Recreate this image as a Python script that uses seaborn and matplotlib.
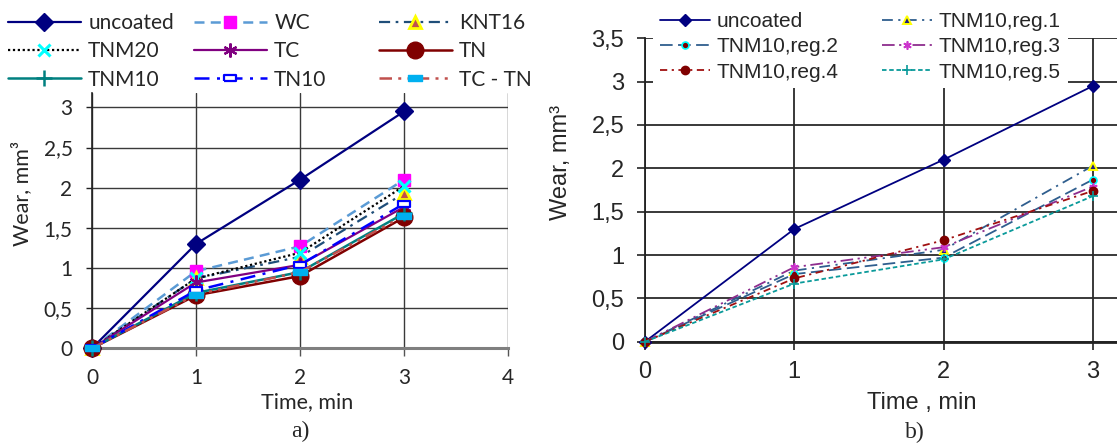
import numpy as np
import pandas as pd
import matplotlib.pyplot as plt
import seaborn as sns
from matplotlib.patches import Rectangle

# ---- data, panel a) ----
time_a = [0, 1, 2, 3]
uncoated_a = [0, 1.30, 2.10, 2.95]
wc = [0, 0.96, 1.27, 2.10]
knt16 = [0, 0.87, 1.14, 1.93]
tnm20 = [0, 0.87, 1.19, 2.02]
tc = [0, 0.82, 1.04, 1.76]
tn = [0, 0.66, 0.90, 1.63]
tnm10 = [0, 0.69, 0.95, 1.68]
tn10 = [0, 0.72, 1.04, 1.80]
tc_tn = [0, 0.67, 0.95, 1.65]

# ---- data, panel b) ----
time_b = [0, 1, 2, 3]
uncoated_b = [0, 1.30, 2.10, 2.95]
reg1 = [0, 0.82, 1.06, 2.03]
reg2 = [0, 0.78, 0.97, 1.87]
reg3 = [0, 0.86, 1.09, 1.79]
reg4 = [0, 0.73, 1.17, 1.74]
reg5 = [0, 0.67, 0.95, 1.68]

yticks_a = [0, 0.5, 1, 1.5, 2, 2.5, 3]
yticks_b = [0, 0.5, 1, 1.5, 2, 2.5, 3, 3.5]
ytick_labels_a = ["0", "0,5", "1", "1,5", "2", "2,5", "3"]
ytick_labels_b = ["0", "0,5", "1", "1,5", "2", "2,5", "3", "3,5"]

sns.set_style("white")
W, H = 1117, 444
fig = plt.figure(figsize=(W / 100, H / 100), dpi=100)

rect = [(-1, -0.45), (1, -0.45), (1, 0.45), (-1, 0.45), (-1, -0.45)]

# label, values, color, linestyle, marker, ms, mfc, mec, mew, lw
series_a = [
    ("uncoated", uncoated_a, "#000080", "-", "D", 9, "#000080", "#000080", 1, 1.6),
    ("WC", wc, "#5B9BD5", (0, (4, 2.5)), "s", 8, "#FF00FF", "#FF00FF", 1, 1.8),
    ("KNT16", knt16, "#1F4E79", (0, (5, 2.5, 1.2, 2.5)), "^", 8, "#C0504D", "#FFFF00", 2, 1.6),
    ("TNM20", tnm20, "#000000", (0, (1, 1.2)), "x", 8, "#00FFFF", "#00FFFF", 2.2, 1.6),
    ("TC", tc, "#800080", "-", (6, 2, 0), 10, "#800080", "#800080", 1.6, 1.6),
    ("TN", tn, "#800000", "-", "o", 12, "#800000", "#800000", 1, 1.8),
    ("TNM10", tnm10, "#008080", "-", "+", 11, "#008080", "#008080", 1.8, 1.8),
    ("TN10", tn10, "#0000FF", (0, (6, 3, 1.2, 3)), rect, 9, "#FFFFFF", "#0000FF", 1.6, 1.8),
    ("TC - TN", tc_tn, "#C0504D", (0, (5, 2.5, 1.2, 2.5, 1.2, 2.5)), rect, 10, "#00B0F0", "#00B0F0", 1, 1.8),
]

series_b = [
    ("uncoated", uncoated_b, "#000080", "-", "D", 6.5, "#000080", "#000080", 1, 1.3),
    ("TNM10,reg.1", reg1, "#2F5E8E", (0, (6, 3, 1.2, 3)), "^", 6, "#1F1F80", "#FFFF00", 1.4, 1.3),
    ("TNM10,reg.2", reg2, "#2F5E8E", (0, (7, 3)), "o", 5, "#800000", "#00FFFF", 1.2, 1.3),
    ("TNM10,reg.3", reg3, "#8E2D8E", (0, (7, 2.5, 1.2, 2.5, 1.2, 2.5)), (6, 2, 0), 6, "#CC33CC", "#CC33CC", 1.2, 1.3),
    ("TNM10,reg.4", reg4, "#A01010", (0, (4, 2.5, 1.2, 2.5)), "o", 6, "#800000", "#800000", 1, 1.3),
    ("TNM10,reg.5", reg5, "#0A9A9A", (0, (2.5, 1.5)), "+", 7, "#0A9A9A", "#0A9A9A", 1.2, 1.3),
]


def draw(ax, x, series):
    for lab, vals, col, ls, mk, ms, mfc, mec, mew, lw in series:
        sns.lineplot(x=x, y=vals, ax=ax, color=col, linestyle=ls, marker=mk,
                     markersize=ms, markerfacecolor=mfc, markeredgecolor=mec,
                     markeredgewidth=mew, lw=lw, label=lab, legend=False,
                     clip_on=False, zorder=3)
    if ax.get_legend() is not None:
        ax.get_legend().remove()
    return ax.get_lines()


# ---- panel a ----
font_a = "Lato"
ax1 = fig.add_axes([92 / W, 1 - 348.3 / H, (508 - 92) / W, (348.3 - 93) / H])
lines_a = draw(ax1, time_a, series_a)
ax1.set_xlim(0, 4)
ax1.set_ylim(0, 3.18)
ax1.set_xticks([0, 1, 2, 3, 4])
ax1.set_xticklabels(["0", "1", "2", "3", "4"], family=font_a, fontsize=15)
ax1.set_yticks(yticks_a)
ax1.set_yticklabels(ytick_labels_a, family=font_a, fontsize=15)
ax1.set_axisbelow(True)
ax1.grid(True, color="#3a3a3a", lw=1)
for s in ["top", "right"]:
    ax1.spines[s].set_visible(False)
ax1.spines["left"].set_color("#222222")
ax1.spines["left"].set_linewidth(1.2)
ax1.spines["bottom"].set_color("#7f7f7f")
ax1.spines["bottom"].set_linewidth(2.2)
ax1.tick_params(axis="y", direction="out", length=4, width=1, color="#222222", left=True, pad=10)
ax1.tick_params(axis="x", direction="out", length=6, width=1, color="#555555", bottom=True, pad=8)
ax1.set_xlabel("Time, min", family=font_a, fontsize=15.5)
ax1.xaxis.set_label_coords(0.518, -0.17)
ax1.set_ylabel("Wear, mm³", family=font_a, fontsize=15.5)
ax1.yaxis.set_label_coords(-0.145, 0.608)

leg_cols_a = [(8, [0, 3, 6]), (194, [1, 4, 7]), (379, [2, 5, 8])]
for xpos, idx in leg_cols_a:
    fig.legend(handles=[lines_a[i] for i in idx], loc="upper left",
               bbox_to_anchor=(xpos / W, 1 - 13 / H), frameon=False,
               borderpad=0, borderaxespad=0, handlelength=3.5, handletextpad=0.35,
               labelspacing=0.4, prop={"family": font_a, "size": 15})

# ---- panel b ----
font_b = "Liberation Sans"
ax2 = fig.add_axes([645 / W, 1 - 341.7 / H, 3.3 * 149.3 / W, (341.7 - 38.3) / H])
lines_b = draw(ax2, time_b, series_b)
ax2.set_xlim(0, 3.3)
ax2.set_ylim(0, 3.5)
ax2.set_xticks([0, 1, 2, 3])
ax2.set_xticklabels(["0", "1", "2", "3"], family=font_b, fontsize=17)
ax2.set_yticks(yticks_b)
ax2.set_yticklabels(ytick_labels_b, family=font_b, fontsize=17)
ax2.set_axisbelow(True)
ax2.grid(True, color="#2a2a2a", lw=1.3)
for s in ["top", "right"]:
    ax2.spines[s].set_visible(False)
ax2.spines["left"].set_color("#222222")
ax2.spines["left"].set_linewidth(1.3)
ax2.spines["bottom"].set_color("#222222")
ax2.spines["bottom"].set_linewidth(2)
ax2.tick_params(axis="both", direction="out", length=6, width=1.2, color="#222222")
ax2.tick_params(axis="y", left=True, pad=9)
ax2.tick_params(axis="x", bottom=True, pad=8)
ax2.set_xlabel("Time , min", family=font_b, fontsize=17)
ax2.xaxis.set_label_coords(0.562, -0.165)
ax2.set_ylabel("Wear, mm³", family=font_b, fontsize=17)
ax2.yaxis.set_label_coords(-0.148, 0.592)

# white area behind legend of panel b
fig.patches.append(Rectangle((653 / W, 1 - 88 / H), (1068 - 653) / W, 88 / H,
                             transform=fig.transFigure, facecolor="white",
                             edgecolor="none", zorder=3))

leg_cols_b = [(660, [0, 2, 4]), (882, [1, 3, 5])]
for xpos, idx in leg_cols_b:
    lg = fig.legend(handles=[lines_b[i] for i in idx], loc="upper left",
                    bbox_to_anchor=(xpos / W, 1 - 12 / H), frameon=False,
                    borderpad=0, borderaxespad=0, handlelength=2.4, handletextpad=0.3,
                    labelspacing=0.3, prop={"family": font_b, "size": 15})
    lg.set_zorder(5)

fig.text(300 / W, 1 - 431 / H, "a)", family="Liberation Serif", fontsize=17, ha="center", va="center")
fig.text(915 / W, 1 - 432 / H, "b)", family="Liberation Serif", fontsize=17, ha="center", va="center")

fig.savefig("out.png", dpi=100)
